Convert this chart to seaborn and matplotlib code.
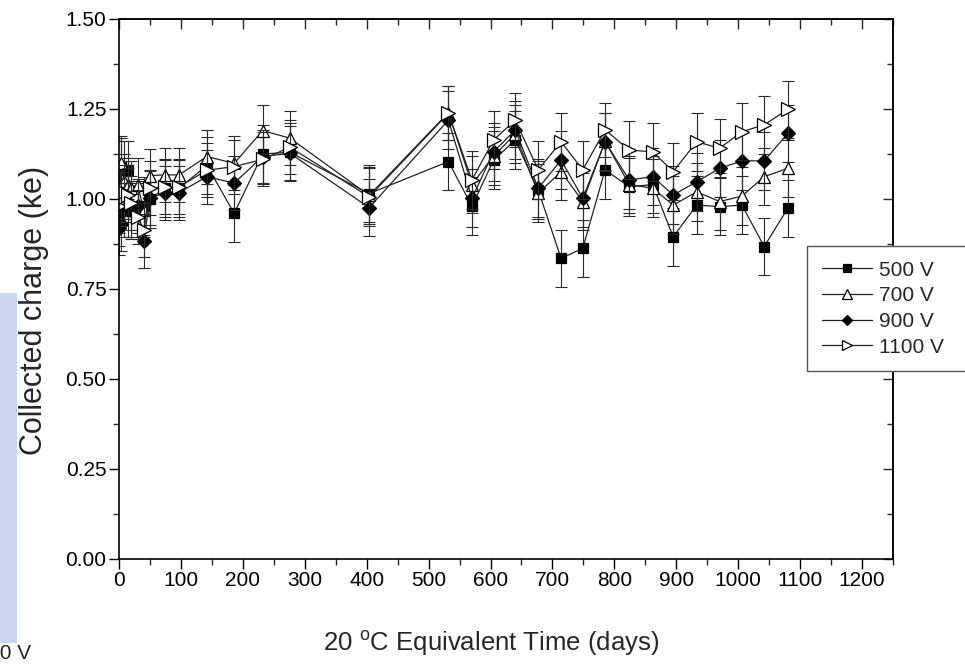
import matplotlib
matplotlib.use("Agg")
import matplotlib.pyplot as plt
import matplotlib.patches as mpatches
from matplotlib.ticker import MultipleLocator
import seaborn as sns

# days (20 C equivalent) shared by all four bias voltages
days = [0, 4, 8, 14, 20, 30, 40, 50, 74, 97, 142, 186, 232, 276, 404, 532, 570,
        605, 640, 677, 714, 749, 785, 824, 862, 895, 933, 970, 1006, 1042, 1080]

v500 = [0.95, 1.09, 1.08, 1.08, 0.97, 0.97, 0.98, 1.00, 1.03, 1.03, 1.093, 0.96,
        1.125, 1.13, 1.015, 1.104, 0.98, 1.108, 1.164, 1.025, 0.835, 0.863, 1.081,
        1.034, 1.04, 0.895, 0.983, 0.979, 0.983, 0.868, 0.974]
v700 = [1.02, 1.10, 1.05, 1.04, 1.03, 1.04, 0.97, 1.065, 1.067, 1.067, 1.118, 1.099,
        1.19, 1.169, 1.01, 1.24, 1.04, 1.12, 1.18, 1.016, 1.076, 0.993, 1.16,
        1.04, 1.03, 0.983, 1.02, 0.993, 1.008, 1.062, 1.085]
v900 = [0.92, 0.93, 0.97, 0.97, 0.97, 0.98, 0.884, 1.002, 1.018, 1.018, 1.062, 1.044,
        1.118, 1.127, 0.976, 1.219, 1.002, 1.131, 1.192, 1.03, 1.108, 1.002, 1.159,
        1.053, 1.062, 1.011, 1.048, 1.085, 1.106, 1.106, 1.182]
v1100 = [0.98, 1.00, 1.02, 1.01, 0.99, 0.95, 0.914, 1.03, 1.034, 1.034, 1.08, 1.09,
         1.11, 1.144, 1.006, 1.238, 1.053, 1.164, 1.219, 1.081, 1.159, 1.081, 1.192,
         1.136, 1.131, 1.076, 1.159, 1.141, 1.187, 1.206, 1.249]

# error bars (ke)
e500 = [0.08, 0.08, 0.08, 0.08, 0.08, 0.08, 0.08, 0.08, 0.08, 0.08, 0.08, 0.08,
        0.08, 0.08, 0.08, 0.08, 0.08, 0.08, 0.08, 0.08, 0.08, 0.08, 0.08,
        0.08, 0.08, 0.08, 0.08, 0.08, 0.08, 0.08, 0.08]
e700 = [0.075, 0.075, 0.075, 0.075, 0.075, 0.075, 0.075, 0.075, 0.075, 0.075, 0.075, 0.075,
        0.07, 0.075, 0.08, 0.075, 0.08, 0.08, 0.08, 0.08, 0.08, 0.08, 0.08,
        0.08, 0.08, 0.08, 0.08, 0.08, 0.08, 0.08, 0.08]
e900 = [0.075, 0.075, 0.075, 0.075, 0.075, 0.075, 0.075, 0.075, 0.075, 0.075, 0.075, 0.075,
        0.075, 0.075, 0.08, 0.08, 0.08, 0.08, 0.08, 0.08, 0.08, 0.08, 0.08,
        0.08, 0.08, 0.08, 0.08, 0.08, 0.08, 0.08, 0.08]
e1100 = [0.075, 0.075, 0.075, 0.075, 0.075, 0.075, 0.075, 0.075, 0.075, 0.075, 0.075, 0.075,
         0.075, 0.075, 0.08, 0.075, 0.08, 0.08, 0.075, 0.08, 0.08, 0.08, 0.075,
         0.08, 0.08, 0.08, 0.08, 0.08, 0.08, 0.08, 0.08]

labels = ["500 V", "700 V", "900 V", "1100 V"]
series = [v500, v700, v900, v1100]
errors = [e500, e700, e900, e1100]
markers = ["s", "^", "D", ">"]
faces = ["black", "white", "black", "white"]
msizes = [7.5, 9.0, 7.0, 9.5]

sns.set_style("ticks")
plt.rcParams["font.family"] = ["Liberation Sans", "DejaVu Sans"]
plt.rcParams["mathtext.fontset"] = "custom"
plt.rcParams["mathtext.rm"] = "Liberation Sans"

fig = plt.figure(figsize=(9.65, 6.65), dpi=100)
ax = fig.add_axes([119 / 965, 1 - 559 / 665, (893 - 119) / 965, (559 - 19) / 665])

for lab, vals, err, m, fc, ms in zip(labels, series, errors, markers, faces, msizes):
    ax.errorbar(days, vals, yerr=err, fmt="none", ecolor="#2a2a2a",
                elinewidth=0.8, capsize=4, capthick=0.8, label="_nolegend_")
    sns.lineplot(x=days, y=vals, ax=ax, color="#222222", linewidth=0.9,
                 marker=m, markersize=ms, markerfacecolor=fc,
                 markeredgecolor="black", markeredgewidth=0.9,
                 label=lab, legend=False, sort=False)

ax.set_xlim(0, 1250)
ax.set_ylim(0, 1.5)
ax.xaxis.set_major_locator(MultipleLocator(100))
ax.xaxis.set_minor_locator(MultipleLocator(50))
ax.yaxis.set_major_locator(MultipleLocator(0.25))
ax.yaxis.set_minor_locator(MultipleLocator(0.125))
ax.set_xticks(range(0, 1201, 100))
ax.yaxis.set_major_formatter(matplotlib.ticker.FormatStrFormatter("%.2f"))

ax.tick_params(which="major", direction="out", length=7, width=1.0,
               labelsize=15, colors="black", pad=2)
ax.tick_params(which="minor", direction="out", length=4, width=1.0)
for sp in ax.spines.values():
    sp.set_linewidth(1.2)
    sp.set_color("black")

# inward ticks on the top and right frame
top = ax.secondary_xaxis("top")
top.xaxis.set_major_locator(MultipleLocator(100))
top.xaxis.set_minor_locator(MultipleLocator(50))
top.tick_params(which="major", direction="in", length=7, width=1.0, labeltop=False)
top.tick_params(which="minor", direction="in", length=4, width=1.0)
top.spines["top"].set_linewidth(1.2)
right = ax.secondary_yaxis("right")
right.yaxis.set_major_locator(MultipleLocator(0.25))
right.yaxis.set_minor_locator(MultipleLocator(0.125))
right.tick_params(which="major", direction="in", length=7, width=1.0, labelright=False)
right.tick_params(which="minor", direction="in", length=4, width=1.0)
right.spines["right"].set_linewidth(1.2)

ax.set_xlabel(r"20 $^{\mathrm{o}}$C Equivalent Time (days)", fontsize=18.5)
ax.xaxis.set_label_coords((491 - 119) / 774, (559 - 628) / 540)
ax.set_ylabel("Collected charge (ke)", fontsize=22)
ax.yaxis.set_label_coords((49 - 119) / 774, (559 - 310) / 540)

handles, labs = ax.get_legend_handles_labels()
leg = fig.legend(handles, labs, loc="upper left",
                 bbox_to_anchor=(807 / 965, 1 - 371 / 665, 0.3, 125 / 665),
                 mode="expand", borderaxespad=0, fontsize=15, frameon=True,
                 fancybox=False, edgecolor="#555555", framealpha=1,
                 handlelength=2.4, handletextpad=0.35, labelspacing=0.32,
                 borderpad=0.7, markerscale=0.8)
leg.get_frame().set_linewidth(1.0)

# pale blue strip and clipped text at the left edge of the slide
fig.patches.append(mpatches.Rectangle((0, 1 - 643 / 665), 17 / 965, 350 / 665,
                                      transform=fig.transFigure, facecolor="#c8d6ee",
                                      edgecolor="none", zorder=0))
fig.text(-0.012, 0.003, "00 V", fontsize=15, ha="left", va="bottom")

fig.savefig("out.png", dpi=100)
